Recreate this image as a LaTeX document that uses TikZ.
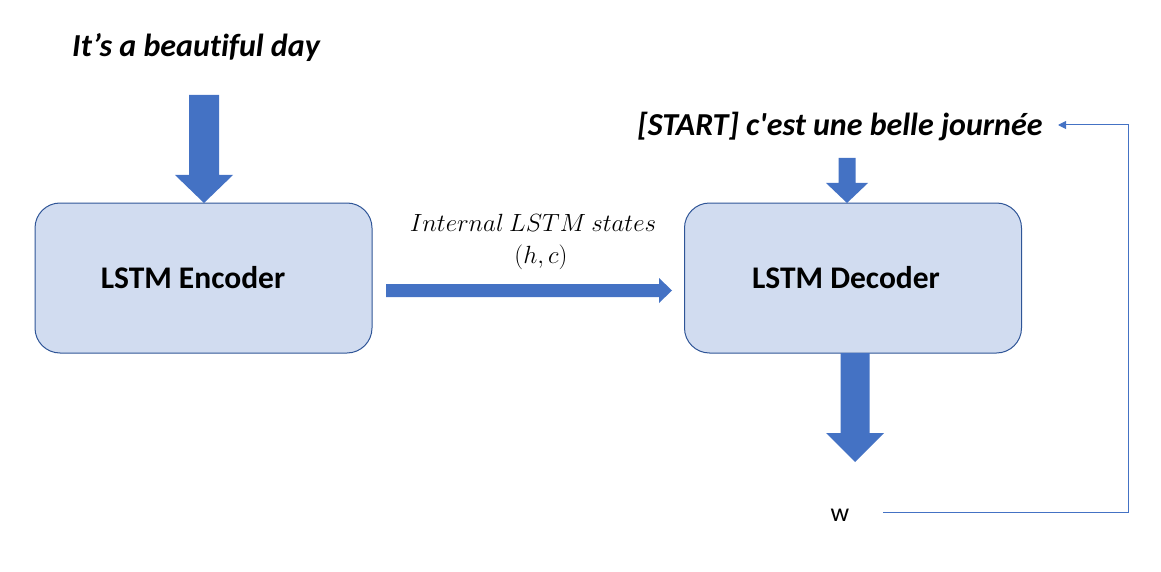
\documentclass[tikz,border=0pt]{standalone}
\usepackage{fontspec}
\setmainfont{Carlito}[Ligatures={TeXOff,NoCommon}]
\usetikzlibrary{arrows.meta}
\definecolor{boxfill}{RGB}{209,220,240}
\definecolor{boxline}{RGB}{47,85,151}
\definecolor{arrowblue}{RGB}{68,114,196}
\newcommand\blockdown[6]{\fill[arrowblue] (#1-#5,#2) -- (#1+#5,#2) -- (#1+#5,#3) -- (#1+#6,#3) -- (#1,#4) -- (#1-#6,#3) -- (#1-#5,#3) -- cycle;}
\begin{document}
\begin{tikzpicture}[x=1pt,y=-1pt,
  box/.style={draw=boxline, fill=boxfill, line width=1pt, rounded corners=25pt,
    minimum width=337pt, minimum height=150pt},
  boxtext/.style={font=\bfseries\fontsize{31.5}{36}\selectfont, inner sep=0pt},
  title/.style={font=\bfseries\itshape\fontsize{32}{36}\selectfont, inner sep=0pt},
  mathlbl/.style={font=\fontsize{24}{28}\selectfont, inner sep=0pt},
  fb/.style={draw=arrowblue, line width=1pt, -{Triangle[length=8pt,width=8pt]}}]
\useasboundingbox (0,0) rectangle (1161,572);
\node[box] (enc) at (203.5,278) {};
\node[box] (dec) at (853,278) {};
\node[boxtext] (enct) at (193,278) {LSTM Encoder};
\node[boxtext] (dect) at (846,278) {LSTM Decoder};
\node[title] (src) at (196,47) {It’s a beautiful day};
\node[title] (tgt) at (840,127) {[START] c'est une belle journée};
\node[mathlbl] (lbl1) at (533,223) {$Internal\ LSTM\ states$};
\node[mathlbl] (lbl2) at (541,257) {$(h,c)$};
\node[font=\fontsize{26}{30}\selectfont, inner sep=0pt] (w) at (840,515) {w};
% block arrows
\blockdown{204}{95}{175}{203}{15}{29}
\blockdown{847}{158}{183}{203}{8.5}{21}
\blockdown{855}{353}{433}{462}{14.5}{29}
\fill[arrowblue] (386,284) -- (659,284) -- (659,278) -- (672,290.5) -- (659,303) -- (659,297) -- (386,297) -- cycle;
% feedback
\coordinate (wr) at (883,512);
\coordinate (c1) at (1128,512);
\coordinate (c2) at (1128,125);
\coordinate (tgtin) at (1058,125);
\draw[fb] (wr) -- (c1) -- (c2) -- (tgtin);
\end{tikzpicture}
\end{document}
